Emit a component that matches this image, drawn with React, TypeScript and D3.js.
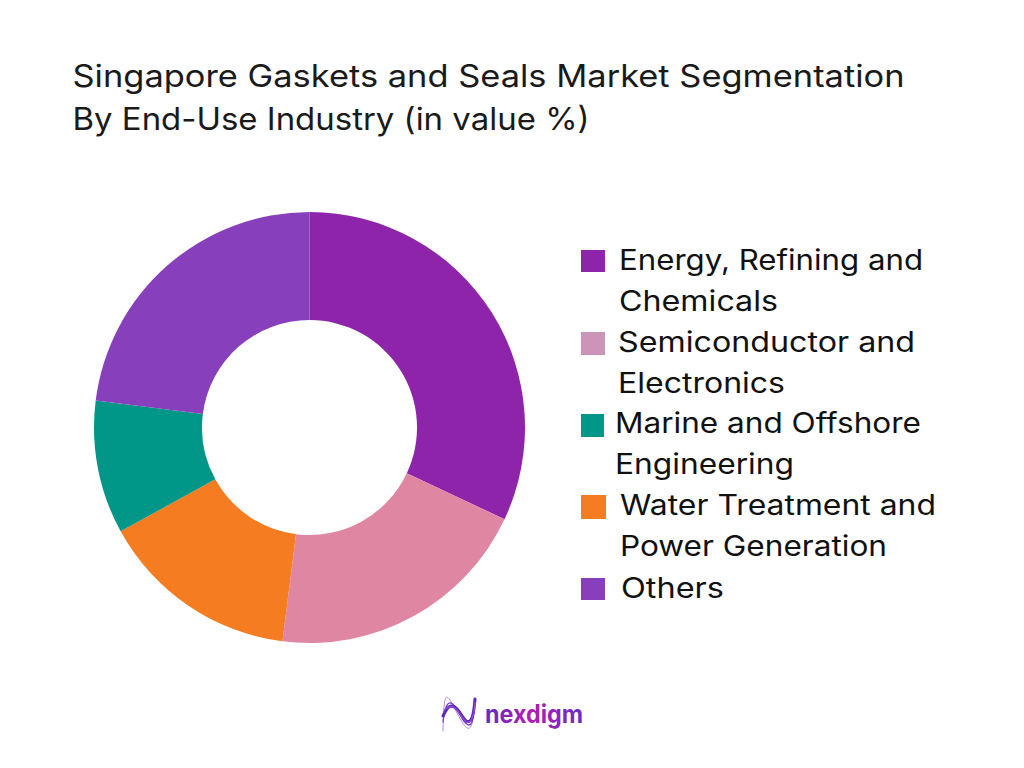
import React from "react";
import * as d3 from "d3";

const categories = [
  "Energy, Refining and Chemicals",
  "Semiconductor and Electronics",
  "Marine and Offshore Engineering",
  "Water Treatment and Power Generation",
  "Others",
];
const values = [32, 20, 10, 15, 23];
const sliceOrder = [0, 1, 3, 2, 4];
const sliceColors = ["#8E24AA", "#DF86A2", "#009688", "#F57C20", "#883FBC"];
const swatchColors = ["#8E24AA", "#CC94B8", "#009688", "#F57C20", "#883FBC"];
const legendLines = [
  ["Energy, Refining and", "Chemicals"],
  ["Semiconductor and", "Electronics"],
  ["Marine and Offshore", "Engineering"],
  ["Water Treatment and", "Power Generation"],
  ["Others"],
];
const legendLineWidths = [[304, 159], [297, 167], [306, 179], [316, 267], [103]];
const legendTextX = [619, 618, 615, 620, 621];
const legendBaselines = [[270, 311], [352, 393], [433, 474], [515, 556], [598]];
const swatchBoxes = [
  [581, 250, 24, 22],
  [581, 332, 24, 23],
  [581, 414, 23, 23],
  [581, 495, 25, 24],
  [581, 578, 24, 22],
];
const titleLines = ["Singapore Gaskets and Seals Market Segmentation", "By End-Use Industry (in value %)"];
const titleWidths = [832, 517];
const titleBaselines = [87, 130];
const logoWaves: [number, number][][] = [
  [[443, 731], [444, 694], [450, 698], [462, 724], [472, 734], [475, 699]],
  [[443, 722], [446, 702], [454, 702], [464, 724], [473, 728], [475, 699]],
  [[443, 716], [449, 704], [458, 708], [466, 724], [473, 720], [475, 699]],
  [[444, 710], [452, 704], [460, 714], [468, 726], [474, 716], [475, 702]],
];
const logoWaveColors = ["#B58AE0", "#7B3FD0", "#5A28BC", "#9A4FD0"];
const logoWaveWidths = [1, 1.3, 3, 1.2];
const FONT = "Inter, 'Noto Sans', sans-serif";

export default function App() {
  const pie = d3.pie<number>().sort(null)(sliceOrder.map((k) => values[k]));
  const arc = d3.arc<d3.PieArcDatum<number>>().innerRadius(107.5).outerRadius(215.5);
  const wave = d3.line<[number, number]>().curve(d3.curveBasis);
  return (
    <svg
      width={1024}
      height={768}
      viewBox="0 0 1024 768"
      style={{ position: "absolute", left: 0, top: 0, background: "#fff" }}
      fontFamily={FONT}
    >
      <defs>
        <linearGradient id="logoText" x1="0" x2="1" y1="0" y2="0">
          <stop offset="0" stopColor="#5E2CC0" />
          <stop offset="0.45" stopColor="#B01FB0" />
          <stop offset="1" stopColor="#6A2CC8" />
        </linearGradient>
      </defs>
      {titleLines.map((t, i) => (
        <text key={t} x={72.5} y={titleBaselines[i]} fontSize={31} fill="#1a1a1a" textLength={titleWidths[i]} lengthAdjust="spacingAndGlyphs">
          {t}
        </text>
      ))}
      <g transform="translate(309.5,427.5)">
        {pie.map((p, i) => (
          <path key={categories[sliceOrder[i]]} d={arc(p) ?? ""} fill={sliceColors[sliceOrder[i]]} />
        ))}
      </g>
      {categories.map((c, i) => (
        <g key={c}>
          <rect x={swatchBoxes[i][0]} y={swatchBoxes[i][1]} width={swatchBoxes[i][2]} height={swatchBoxes[i][3]} fill={swatchColors[i]} />
          {legendLines[i].map((l, j) => (
            <text key={l} x={legendTextX[i]} y={legendBaselines[i][j]} fontSize={28} fill="#111" textLength={legendLineWidths[i][j]} lengthAdjust="spacingAndGlyphs">
              {l}
            </text>
          ))}
        </g>
      ))}
      <g fill="none" strokeLinecap="round">
        {logoWaves.map((w, i) => (
          <path key={i} d={wave(w) ?? ""} stroke={logoWaveColors[i]} strokeWidth={logoWaveWidths[i]} />
        ))}
      </g>
      <text x={485} y={723} fontSize={25} fontWeight={700} fill="url(#logoText)" textLength={98} lengthAdjust="spacingAndGlyphs">
        nexdigm
      </text>
    </svg>
  );
}
